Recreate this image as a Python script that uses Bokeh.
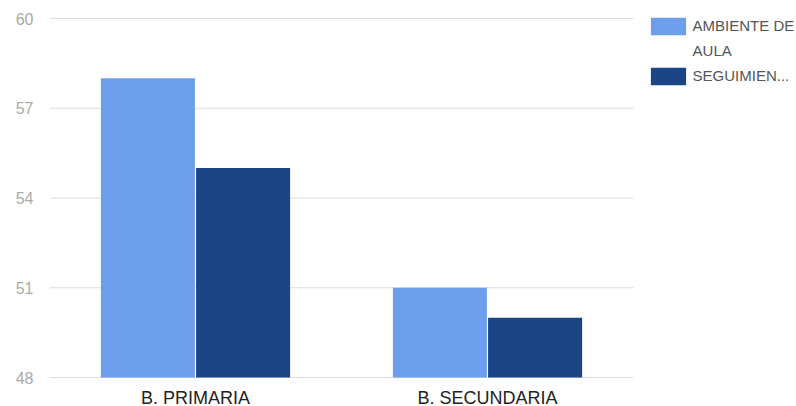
from bokeh.plotting import figure
from bokeh.models import ColumnDataSource, Range1d, FixedTicker, Legend, LegendItem
from bokeh.core.properties import value
from bokeh.transform import dodge
from bokeh.embed import file_html
from bokeh.resources import INLINE

categories = ["B. PRIMARIA", "B. SECUNDARIA"]
series_names = ["AMBIENTE DE AULA", "SEGUIMIEN..."]
legend_lines = [["AMBIENTE DE", "AULA"], ["SEGUIMIEN..."]]
ambiente = [58, 51]
seguimiento = [55, 50]
y_ticks = [48, 51, 54, 57, 60]
colors = ["#6d9eeb", "#1c4587"]

n = len(categories)
xpos = [i + 0.5 for i in range(n)]
px_per_unit = 359 / (y_ticks[-1] - y_ticks[0])      # layout: plot area 359 px tall
label_y = y_ticks[0] - 20 / px_per_unit             # category labels 20 px below baseline
source = ColumnDataSource(data=dict(x=xpos, cat=categories, ambiente=ambiente,
                                    seguimiento=seguimiento, ly=[label_y] * n))

# frame spans whole canvas; category area is x in [0, n], legend sits to its right
p = figure(width=796, height=406, output_backend="svg", toolbar_location=None,
           x_range=Range1d(0, n + 163 / 292),
           y_range=Range1d(y_ticks[0] - 29 / px_per_unit, y_ticks[-1] + 18 / px_per_unit),
           min_border_left=49, min_border_right=0, min_border_top=0, min_border_bottom=0)
p.outline_line_color = None
p.background_fill_color = "white"
p.border_fill_color = "white"
p.xaxis.visible = False

p.xgrid.grid_line_color = None
p.ygrid.grid_line_color = None
p.segment(x0=0, x1=n, y0=y_ticks, y1=y_ticks, line_color="#dddddd", line_width=1)

r1 = p.vbar(x=dodge("x", -0.163), top="ambiente", bottom=y_ticks[0], width=0.322,
            source=source, fill_color=colors[0], line_color=None)
r2 = p.vbar(x=dodge("x", 0.163), top="seguimiento", bottom=y_ticks[0], width=0.322,
            source=source, fill_color=colors[1], line_color=None)
# invisible renderer used only for the wrapped second line of the first legend label
r_blank = p.vbar(x=[], top=[], width=0.3, fill_alpha=0, line_alpha=0)

# category labels
p.text(x="x", y="ly", text="cat", source=source, text_font=value("Liberation Sans"),
       text_font_size="18px", text_color="#222222", text_align="center", text_baseline="middle")

p.yaxis.ticker = FixedTicker(ticks=y_ticks)
p.yaxis.axis_line_color = None
p.yaxis.major_tick_line_color = None
p.yaxis.minor_tick_line_color = None
p.yaxis.major_tick_out = 0
p.yaxis.major_label_standoff = 16
p.yaxis.major_label_text_font = "Liberation Sans"
p.yaxis.major_label_text_font_size = "16px"
p.yaxis.major_label_text_color = "#aaaaaa"

legend = Legend(items=[LegendItem(label=legend_lines[0][0], renderers=[r1]),
                       LegendItem(label=legend_lines[0][1], renderers=[r_blank]),
                       LegendItem(label=legend_lines[1][0], renderers=[r2])],
                location=(596.6, 319.5))
legend.border_line_color = None
legend.background_fill_alpha = 0
legend.glyph_width = 44
legend.glyph_height = 22
legend.label_height = 22
legend.padding = 0
legend.margin = 0
legend.spacing = 3
legend.label_standoff = 3
legend.label_text_font = "Liberation Sans"
legend.label_text_font_size = "15px"
legend.label_text_color = "#555555"
p.add_layout(legend, "center")

open("out.html", "w").write(file_html(p, INLINE))
